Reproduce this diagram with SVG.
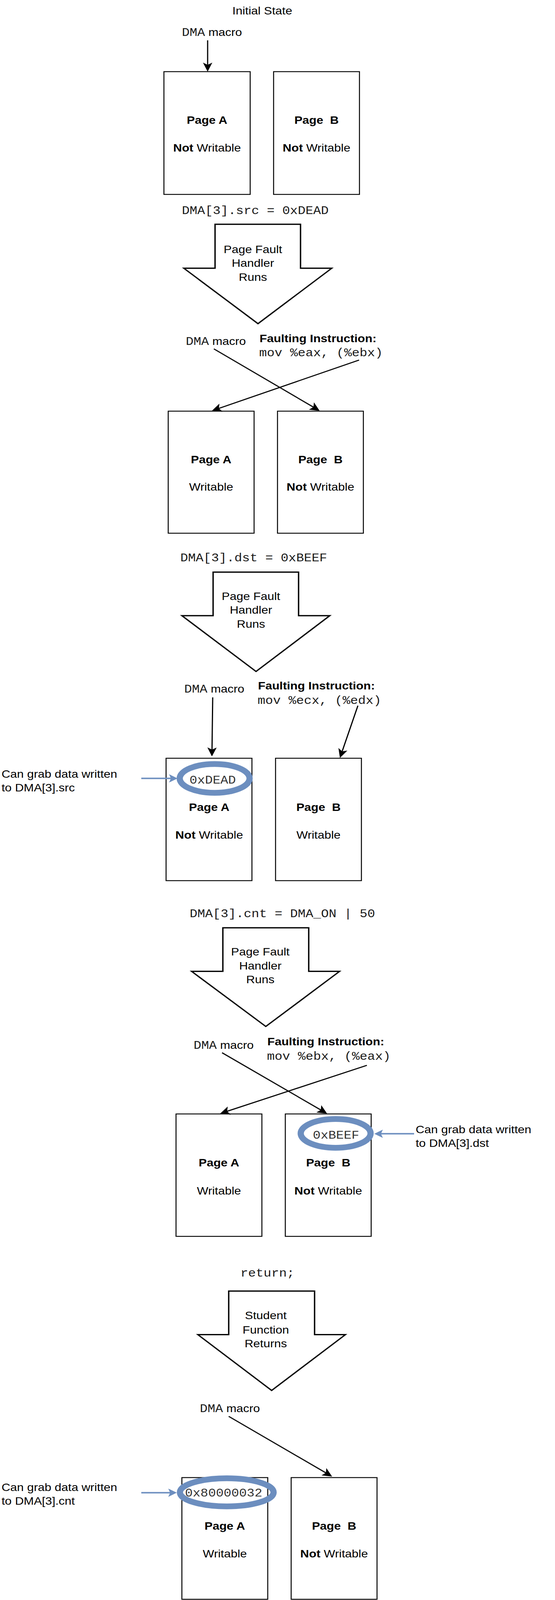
<svg xmlns="http://www.w3.org/2000/svg" width="1422" height="4444" viewBox="0 0 1422 4444">
<style>
.s{font-family:"Liberation Sans",Arial,sans-serif;font-size:31px;fill:#000}
.b{font-weight:bold}
.m{font-family:"Liberation Mono","Courier New",monospace;font-size:33px;fill:#1a1a1a}
.mg{font-family:"Liberation Mono","Courier New",monospace;font-size:33px;fill:#333}
.c{text-anchor:middle}
.page{fill:#fff;stroke:#000;stroke-width:2.5}
.big{fill:#fff;stroke:#000;stroke-width:3.5;stroke-linejoin:miter}
.conn{fill:none;stroke:#000;stroke-width:3;marker-end:url(#ah)}
.bconn{fill:none;stroke:#6c8ebf;stroke-width:4;marker-end:url(#bh)}
.ring{fill:none;stroke:#6c8ebf;stroke-width:16}
</style>
<defs>
<marker id="ah" viewBox="0 0 25 24" markerWidth="25" markerHeight="24" refX="6" refY="12" orient="auto" markerUnits="userSpaceOnUse">
<path d="M0,0 L25,12 L0,24 L6,12 Z" fill="#000"/>
</marker>
<marker id="bh" viewBox="0 0 22 23" markerWidth="22" markerHeight="23" refX="5" refY="11.5" orient="auto" markerUnits="userSpaceOnUse">
<path d="M0,0 L22,11.5 L0,23 L5,11.5 Z" fill="#6c8ebf"/>
</marker>
</defs>
<g id="diagram" transform="scale(1,0.92169)">

<!-- Section 1 -->
<text id="title" class="s c" x="672" y="40">Initial State</text>
<g id="s1-dma"><text class="s" x="466" y="100"><tspan class="m">DMA</tspan> macro</text></g>
<g id="s1-pageA"><rect class="page" x="420" y="199" width="221" height="341"/>
<text class="s b c" x="530.5" y="344">Page A</text>
<text class="s c" x="530.5" y="421"><tspan class="b">Not</tspan> Writable</text></g>
<g id="s1-pageB"><rect class="page" x="701" y="199" width="220" height="341"/>
<text class="s b c" x="811" y="344" xml:space="preserve">Page  B</text>
<text class="s c" x="811" y="421"><tspan class="b">Not</tspan> Writable</text></g>

<!-- Section 2 -->
<g id="s2-code"><text class="m" x="466" y="595">DMA[3].src = 0xDEAD</text></g>
<g id="s2-arrow"><path class="big" d="M551,623 L770,623 L770,745 L850,745 L661,899 L471,745 L551,745 Z"/>
<text class="s c" x="648" y="703">Page Fault</text>
<text class="s c" x="648" y="741">Handler</text>
<text class="s c" x="648" y="780">Runs</text></g>
<g id="s2-dma"><text class="s" x="476" y="958"><tspan class="m">DMA</tspan> macro</text></g>
<g id="s2-instr"><text class="s b" x="665" y="950">Faulting Instruction:</text>
<text class="m" x="664" y="990">mov %eax, (%ebx)</text></g>
<g id="s2-pageA"><rect class="page" x="431" y="1142" width="220" height="339"/>
<text class="s b c" x="541" y="1287">Page A</text>
<text class="s c" x="541" y="1363">Writable</text></g>
<g id="s2-pageB"><rect class="page" x="711" y="1142" width="220" height="339"/>
<text class="s b c" x="821" y="1287" xml:space="preserve">Page  B</text>
<text class="s c" x="821" y="1363"><tspan class="b">Not</tspan> Writable</text></g>

<!-- Section 3 -->
<g id="s3-code"><text class="m" x="462" y="1559">DMA[3].dst = 0xBEEF</text></g>
<g id="s3-arrow"><path class="big" d="M546,1589 L765,1589 L765,1710 L845,1710 L656,1865 L466,1710 L546,1710 Z"/>
<text class="s c" x="643" y="1667">Page Fault</text>
<text class="s c" x="643" y="1705">Handler</text>
<text class="s c" x="643" y="1744">Runs</text></g>
<g id="s3-dma"><text class="s" x="472" y="1924"><tspan class="m">DMA</tspan> macro</text></g>
<g id="s3-instr"><text class="s b" x="661" y="1915">Faulting Instruction:</text>
<text class="m" x="660" y="1955">mov %ecx, (%edx)</text></g>
<g id="s3-pageA"><rect class="page" x="425.5" y="2106" width="220" height="340"/>
<text class="s b c" x="536" y="2252">Page A</text>
<text class="s c" x="536" y="2329"><tspan class="b">Not</tspan> Writable</text></g>
<g id="s3-pageB"><rect class="page" x="706" y="2106" width="220" height="340"/>
<text class="s b c" x="816" y="2252" xml:space="preserve">Page  B</text>
<text class="s c" x="816" y="2329">Writable</text></g>
<g id="s3-ring"><ellipse class="ring" cx="550" cy="2162" rx="89.5" ry="40"/>
<text class="mg c" x="545" y="2176">0xDEAD</text></g>
<g id="s3-note"><text class="s" x="4" y="2160">Can grab data written</text>
<text class="s" x="4" y="2198">to DMA[3].src</text></g>

<!-- Section 4 -->
<g id="s4-code"><text class="m" x="486" y="2548">DMA[3].cnt = DMA_ON | 50</text></g>
<g id="s4-arrow"><path class="big" d="M571,2577 L791,2577 L791,2698 L870,2698 L681,2851 L491,2698 L571,2698 Z"/>
<text class="s c" x="667" y="2654">Page Fault</text>
<text class="s c" x="667" y="2693">Handler</text>
<text class="s c" x="667" y="2731">Runs</text></g>
<g id="s4-dma"><text class="s" x="496" y="2913"><tspan class="m">DMA</tspan> macro</text></g>
<g id="s4-instr"><text class="s b" x="685" y="2903">Faulting Instruction:</text>
<text class="m" x="684" y="2943">mov %ebx, (%eax)</text></g>
<g id="s4-pageA"><rect class="page" x="451" y="3094" width="220" height="340"/>
<text class="s b c" x="561" y="3240">Page A</text>
<text class="s c" x="561" y="3318">Writable</text></g>
<g id="s4-pageB"><rect class="page" x="731" y="3094" width="220" height="340"/>
<text class="s b c" x="841" y="3240" xml:space="preserve">Page  B</text>
<text class="s c" x="841" y="3318"><tspan class="b">Not</tspan> Writable</text></g>
<g id="s4-ring"><ellipse class="ring" cx="860" cy="3148" rx="89.5" ry="40"/>
<text class="mg c" x="861" y="3163">0xBEEF</text></g>
<g id="s4-note"><text class="s" x="1065" y="3147">Can grab data written</text>
<text class="s" x="1065" y="3185">to DMA[3].dst</text></g>

<!-- Section 5 -->
<g id="s5-code"><text class="m" x="616" y="3546">return;</text></g>
<g id="s5-arrow"><path class="big" d="M586,3586 L806,3586 L806,3707 L885,3707 L696,3862 L507,3707 L586,3707 Z"/>
<text class="s c" x="681" y="3664">Student</text>
<text class="s c" x="681" y="3704">Function</text>
<text class="s c" x="681" y="3742">Returns</text></g>
<g id="s5-dma"><text class="s" x="512" y="3922"><tspan class="m">DMA</tspan> macro</text></g>
<g id="s5-pageA"><rect class="page" x="466" y="4104" width="220" height="338"/>
<text class="s b c" x="576" y="4249">Page A</text>
<text class="s c" x="576" y="4326">Writable</text></g>
<g id="s5-pageB"><rect class="page" x="746" y="4104" width="220" height="338"/>
<text class="s b c" x="856" y="4249" xml:space="preserve">Page  B</text>
<text class="s c" x="856" y="4326"><tspan class="b">Not</tspan> Writable</text></g>
<g id="s5-ring"><ellipse class="ring" cx="581" cy="4145" rx="120" ry="39"/>
<text class="mg c" x="573" y="4157">0x80000032</text></g>
<g id="s5-note"><text class="s" x="4" y="4141">Can grab data written</text>
<text class="s" x="4" y="4179">to DMA[3].cnt</text></g>

<!-- Connectors -->
<g id="connectors">
<path class="conn" d="M532,112 L532,180"/>
<path class="conn" d="M548,969 L803,1130.8"/>
<path class="conn" d="M920,1000 L560.8,1134.3"/>
<path class="conn" d="M545,1937 L543.2,2082"/>
<path class="conn" d="M917,1960 L876.7,2086.9"/>
<path class="conn" d="M569,2924 L821.9,3082.9"/>
<path class="conn" d="M940,2959 L581.9,3086.6"/>
<path class="conn" d="M586,3934 L834.9,4090.9"/>
<path class="bconn" d="M362,2162 L438,2162"/>
<path class="bconn" d="M1061,3149 L976,3149"/>
<path class="bconn" d="M362,4146 L436,4146"/>
</g>
</g>
</svg>
